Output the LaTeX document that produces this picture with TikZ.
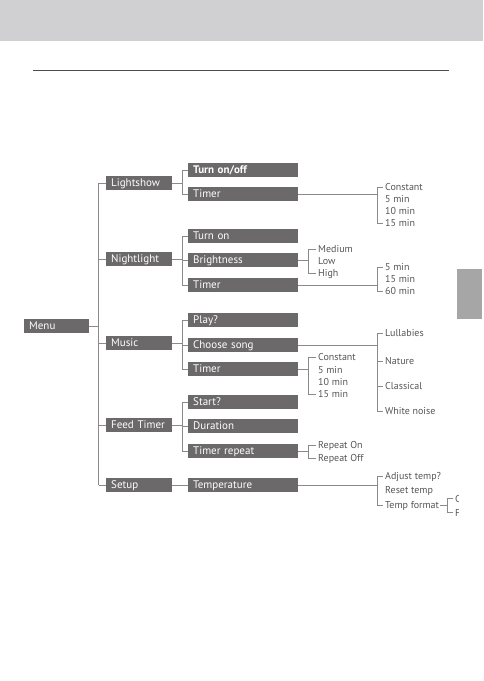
\documentclass[tikz,border=0pt]{standalone}
\usepackage{fontspec}
\setmainfont{PT Sans}
\definecolor{band}{HTML}{D0D0D2}
\definecolor{boxc}{HTML}{6B6969}
\definecolor{linec}{HTML}{8A8A8A}
\definecolor{txt}{HTML}{555555}
\definecolor{rulec}{HTML}{4D4D4D}
\definecolor{tabc}{HTML}{A6A6A6}
\begin{document}
\begin{tikzpicture}[x=1pt,y=-1pt,
  boxa/.style={fill=boxc,text=white,anchor=west,inner xsep=5pt,inner ysep=0pt,
    minimum height=14pt,text width=#1,align=left,text height=8pt,text depth=1.5pt,
    font=\fontsize{11}{13}\selectfont},
  lab/.style={anchor=west,inner sep=0pt,text=txt,text height=7pt,text depth=0pt,
    font=\fontsize{10}{12}\selectfont},
  conn/.style={draw=linec,line width=0.8pt}]
\useasboundingbox (0,0) rectangle (483,681);
% header band, rule, side tab
\fill[band] (0,0) rectangle (483,41);
\draw[rulec,line width=1.1pt] (33,70.5) -- (449,70.5);
\fill[tabc] (457,269) rectangle (482,319);

% bracket x positions
\coordinate (sp) at (98.7,0);
\coordinate (b2) at (182,0);
\coordinate (bA) at (377,0);
\coordinate (bB) at (308,0);
\coordinate (bC) at (447,0);

% root
\node[boxa=55pt] (menu) at (24,326) {Menu};
% level 1
\node[boxa=56pt] (lightshow) at (106,183) {Lightshow};
\node[boxa=56pt] (nightlight) at (106,259) {Nightlight};
\node[boxa=56pt] (music) at (106,343) {Music};
\node[boxa=56pt] (feed) at (106,425) {Feed Timer};
\node[boxa=56pt] (setup) at (106,485) {Setup};
% level 2
\node[boxa=100pt] (ton) at (188,170) {\bfseries Turn on/off};
\node[boxa=100pt] (ltimer) at (188,194) {Timer};
\node[boxa=100pt] (turnon) at (188,236) {Turn on};
\node[boxa=100pt] (bright) at (188,260) {Brightness};
\node[boxa=100pt] (ntimer) at (188,285) {Timer};
\node[boxa=100pt] (play) at (188,320) {Play?};
\node[boxa=100pt] (choose) at (188,345) {Choose song};
\node[boxa=100pt] (mtimer) at (188,369) {Timer};
\node[boxa=100pt] (start) at (188,402) {Start?};
\node[boxa=100pt] (dur) at (188,426) {Duration};
\node[boxa=100pt] (trep) at (188,451) {Timer repeat};
\node[boxa=100pt] (temp) at (188,485) {Temperature};

% level 3 labels
\node[lab] (la1) at (385,187) {Constant};
\node[lab] (la2) at (385,199) {5 min};
\node[lab] (la3) at (385,211) {10 min};
\node[lab] (la4) at (385,223) {15 min};

\node[lab] (br1) at (318,249) {Medium};
\node[lab] (br2) at (318,261) {Low};
\node[lab] (br3) at (318,273) {High};

\node[lab] (nt1) at (385,267) {5 min};
\node[lab] (nt2) at (385,279) {15 min};
\node[lab] (nt3) at (385,291) {60 min};

\node[lab] (cs1) at (385,333) {Lullabies};
\node[lab] (cs2) at (385,361) {Nature};
\node[lab] (cs3) at (385,386) {Classical};
\node[lab] (cs4) at (385,411) {White noise};

\node[lab] (mt1) at (318,357) {Constant};
\node[lab] (mt2) at (318,370) {5 min};
\node[lab] (mt3) at (318,382) {10 min};
\node[lab] (mt4) at (318,394) {15 min};

\node[lab] (tr1) at (318,445) {Repeat On};
\node[lab] (tr2) at (318,458) {Repeat Off};

\node[lab] (tp1) at (385,476) {Adjust temp?};
\node[lab] (tp2) at (385,490) {Reset temp};
\node[lab] (tp3) at (385,505) {Temp format};

\begin{scope}
\clip (0,0) rectangle (458,681);
\node[lab] (cc) at (455,498.5) {C};
\node[lab] (ff) at (455,512.5) {F};
\end{scope}

% spine
\draw[conn] (menu.east) -- (menu.east -| sp);
\draw[conn] (lightshow.west -| sp) -- (setup.west -| sp);
\foreach \n in {lightshow,nightlight,music,feed,setup}
  \draw[conn] (\n.west) -- (\n.west -| sp);

% level 1 -> level 2
\draw[conn] (lightshow.east) -- (lightshow.east -| b2);
\draw[conn] (ton.west -| b2) -- (ltimer.west -| b2);
\draw[conn] (nightlight.east) -- (nightlight.east -| b2);
\draw[conn] (turnon.west -| b2) -- (ntimer.west -| b2);
\draw[conn] (music.east) -- (music.east -| b2);
\draw[conn] (play.west -| b2) -- (mtimer.west -| b2);
\draw[conn] (feed.east) -- (feed.east -| b2);
\draw[conn] (start.west -| b2) -- (trep.west -| b2);
\foreach \n in {ton,ltimer,turnon,bright,ntimer,play,choose,mtimer,start,dur,trep}
  \draw[conn] (\n.west) -- (\n.west -| b2);
\draw[conn] (setup.east) -- (temp.west);

% level 2 -> level 3
\draw[conn] (ltimer.east) -- (ltimer.east -| bA);
\draw[conn] ([xshift=-2pt]la1.west) -- (la1.west -| bA) -- (la4.west -| bA) -- ([xshift=-2pt]la4.west);

\draw[conn] (bright.east) -- (bright.east -| bB);
\draw[conn] ([xshift=-2pt]br1.west) -- (br1.west -| bB) -- (br3.west -| bB) -- ([xshift=-2pt]br3.west);

\draw[conn] (ntimer.east) -- (ntimer.east -| bA);
\draw[conn] ([xshift=-2pt]nt1.west) -- (nt1.west -| bA) -- (nt3.west -| bA) -- ([xshift=-2pt]nt3.west);

\draw[conn] (choose.east) -- (choose.east -| bA);
\draw[conn] ([xshift=-2pt]cs1.west) -- (cs1.west -| bA) -- (cs4.west -| bA) -- ([xshift=-2pt]cs4.west);
\foreach \n in {cs2,cs3}
  \draw[conn] (\n.west -| bA) -- ([xshift=-2pt]\n.west);

\draw[conn] (mtimer.east) -- (mtimer.east -| bB);
\draw[conn] ([xshift=-2pt]mt1.west) -- (mt1.west -| bB) -- (mt4.west -| bB) -- ([xshift=-2pt]mt4.west);

\draw[conn] (trep.east) -- (trep.east -| bB);
\draw[conn] ([xshift=-2pt]tr1.west) -- (tr1.west -| bB) -- (tr2.west -| bB) -- ([xshift=-2pt]tr2.west);

\draw[conn] (temp.east) -- (temp.east -| bA);
\draw[conn] ([xshift=-2pt]tp1.west) -- (tp1.west -| bA) -- (tp3.west -| bA) -- ([xshift=-2pt]tp3.west);

\draw[conn] ([xshift=1pt]tp3.east) -- (tp3.east -| bC);
\draw[conn] ([xshift=-2pt]cc.west) -- (cc.west -| bC) -- (ff.west -| bC) -- ([xshift=-2pt]ff.west);
\end{tikzpicture}
\end{document}
